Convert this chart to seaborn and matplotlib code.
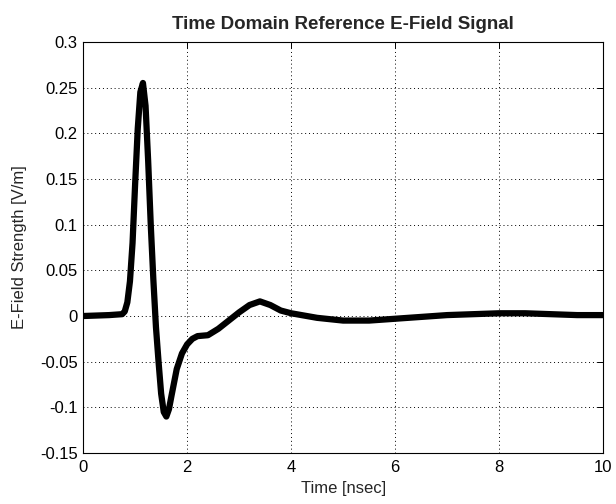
import matplotlib
matplotlib.use("Agg")
import matplotlib.pyplot as plt
import matplotlib.ticker as mticker
import seaborn as sns
import pandas as pd

# Time samples [nsec] and reference E-field strength [V/m]
time_ns = [0.0, 0.5, 0.75, 0.8, 0.85, 0.9, 0.95, 1.0, 1.05, 1.1, 1.15, 1.2,
           1.25, 1.3, 1.35, 1.4, 1.45, 1.5, 1.55, 1.6, 1.65, 1.7, 1.8, 1.9,
           2.0, 2.1, 2.2, 2.4, 2.6, 2.8, 3.0, 3.2, 3.4, 3.6, 3.8, 4.0, 4.5,
           5.0, 5.5, 6.0, 6.5, 7.0, 7.5, 8.0, 8.5, 9.0, 9.5, 10.0]
efield = [0.0, 0.001, 0.002, 0.005, 0.015, 0.038, 0.08, 0.145, 0.205, 0.245,
          0.255, 0.23, 0.17, 0.1, 0.04, -0.012, -0.05, -0.085, -0.105, -0.11,
          -0.102, -0.087, -0.058, -0.041, -0.031, -0.025, -0.022, -0.021,
          -0.014, -0.005, 0.004, 0.012, 0.016, 0.012, 0.006, 0.003, -0.002,
          -0.005, -0.005, -0.003, -0.001, 0.001, 0.002, 0.003, 0.003, 0.002,
          0.001, 0.001]

x_ticks = [0, 2, 4, 6, 8, 10]
y_ticks = [-0.15, -0.1, -0.05, 0, 0.05, 0.1, 0.15, 0.2, 0.25, 0.3]

sns.set_style("white")
plt.rcParams["font.family"] = ["Liberation Sans", "DejaVu Sans"]

df = pd.DataFrame({"t": time_ns, "e": efield})

fig = plt.figure(figsize=(6.16, 5.04), dpi=100)
ax = fig.add_axes([0.135, 0.101, 0.844, 0.816])

sns.lineplot(data=df, x="t", y="e", ax=ax, color="black", linewidth=4.5,
             estimator=None, sort=False)

ax.set_xlim(0, 10)
ax.set_ylim(-0.15, 0.3)
ax.set_xticks(x_ticks)
ax.set_yticks(y_ticks)
ax.yaxis.set_major_formatter(mticker.FuncFormatter(lambda v, p: f"{v:g}"))
ax.xaxis.set_major_formatter(mticker.FuncFormatter(lambda v, p: f"{v:g}"))

ax.grid(True, color="black", linestyle=(0, (1, 3)), linewidth=0.7)
ax.tick_params(direction="in", top=True, right=True, length=4,
               width=0.7, labelsize=12, colors="black")
ax.tick_params(axis="x", pad=5)
ax.tick_params(axis="y", pad=4)
for s in ax.spines.values():
    s.set_color("black")
    s.set_linewidth(0.8)

ax.set_xlabel("Time [nsec]", fontsize=12, labelpad=4)
ax.set_ylabel("E-Field Strength [V/m]", fontsize=12, labelpad=9)
ax.set_title("Time Domain Reference E-Field Signal", fontsize=13.5,
             fontweight="bold", pad=9)

fig.savefig("out.png", dpi=100, facecolor="white")
